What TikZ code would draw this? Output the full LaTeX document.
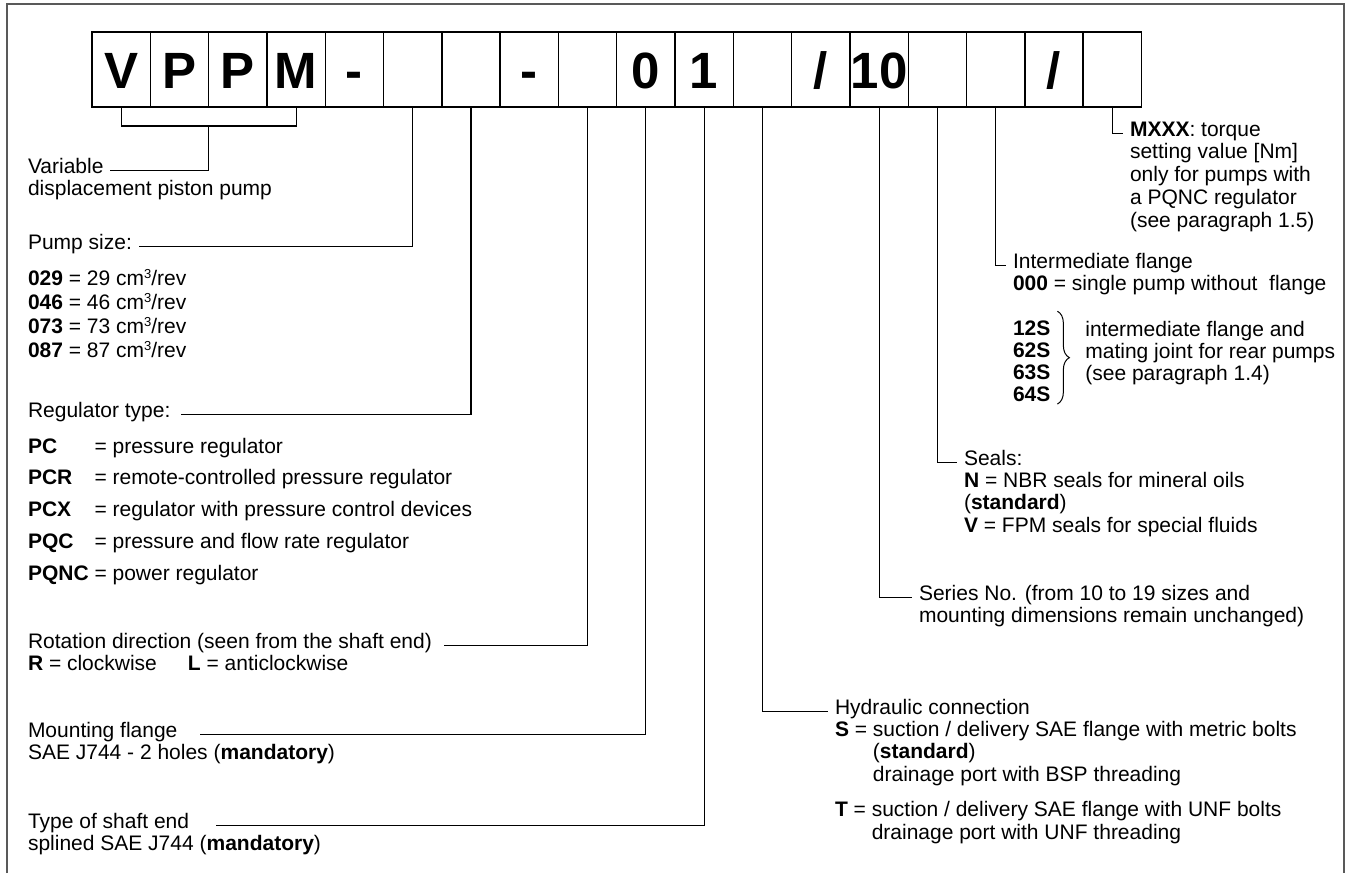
\documentclass[tikz,border=0pt]{standalone}
\usepackage{fontspec}
\setmainfont{Liberation Sans}
\usepackage{tikz}
\usetikzlibrary{positioning, decorations.pathreplacing}
\tikzset{
    cell/.style={rectangle, draw, line width=1.4pt, minimum width=58.3pt, minimum height=75pt, inner sep=0pt, outer sep=0pt, text height=37pt, text depth=0pt, font=\fontsize{51}{51}\selectfont\bfseries},
    desc/.style={inner sep=0pt, outer xsep=7pt, outer ysep=0pt, align=left, font=\fontsize{21}{23}\selectfont},
    lead/.style={line width=1.1pt},
    frame/.style={line width=1.6pt, black!65}
}
\begin{document}
\begin{tikzpicture}[x=1pt, y=-1pt, node distance=7pt]
    \useasboundingbox (0,0) rectangle (1348,873);
    % Outer frame (open at the bottom)
    \draw[frame] (7,873) -- (7,4) -- (1344,4) -- (1344,873);

    % Code boxes
    \node[cell] (box1) at (121.15,69.5) {V};
    \node[cell, right=0pt of box1] (box2) {P};
    \node[cell, right=0pt of box2] (box3) {P};
    \node[cell, right=0pt of box3] (box4) {M};
    \node[cell, right=0pt of box4] (box5) {-};
    \node[cell, right=0pt of box5] (box6) {};
    \node[cell, right=0pt of box6] (box7) {};
    \node[cell, right=0pt of box7] (box8) {-};
    \node[cell, right=0pt of box8] (box9) {};
    \node[cell, right=0pt of box9] (box10) {0};
    \node[cell, right=0pt of box10] (box11) {1};
    \node[cell, right=0pt of box11] (box12) {};
    \node[cell, right=0pt of box12] (box13) {/};
    \node[cell, right=0pt of box13] (box14) {10};
    \node[cell, right=0pt of box14] (box15) {};
    \node[cell, right=0pt of box15] (box16) {};
    \node[cell, right=0pt of box16] (box17) {/};
    \node[cell, right=0pt of box17] (box18) {};

    % Left column
    \node[desc, anchor=base west] (varT) at (21,173) {Variable};
    \node[desc, below=of varT.base west, anchor=north west] (varB) {displacement piston pump};

    \node[desc, anchor=base west] (sizeT) at (21,249) {Pump size:};
    \node[desc, font=\fontsize{21}{24}\selectfont, below=20pt of sizeT.base west, anchor=north west] (sizeB)
        {\textbf{029} = 29 cm\raisebox{7.5pt}{\fontsize{13}{13}\selectfont 3}/rev\\
         \textbf{046} = 46 cm\raisebox{7.5pt}{\fontsize{13}{13}\selectfont 3}/rev\\
         \textbf{073} = 73 cm\raisebox{7.5pt}{\fontsize{13}{13}\selectfont 3}/rev\\
         \textbf{087} = 87 cm\raisebox{7.5pt}{\fontsize{13}{13}\selectfont 3}/rev};

    \node[desc, anchor=base west] (regT) at (21,417) {Regulator type:};
    \node[desc, font=\fontsize{21}{31.7}\selectfont, below=21pt of regT.base west, anchor=north west] (regB)
        {\makebox[66.5pt][l]{\textbf{PC}}= pressure regulator\\
         \makebox[66.5pt][l]{\textbf{PCR}}= remote-controlled pressure regulator\\
         \makebox[66.5pt][l]{\textbf{PCX}}= regulator with pressure control devices\\
         \makebox[66.5pt][l]{\textbf{PQC}}= pressure and flow rate regulator\\
         \makebox[66.5pt][l]{\textbf{PQNC}}= power regulator};

    \node[desc, anchor=base west] (rotT) at (21,648) {Rotation direction (seen from the shaft end)};
    \node[desc, below=of rotT.base west, anchor=north west] (rotB)
        {\textbf{R} = clockwise\hspace{31pt}\textbf{L} = anticlockwise};

    \node[desc, anchor=base west] (mntT) at (21,737) {Mounting flange};
    \node[desc, below=of mntT.base west, anchor=north west] (mntB) {SAE J744 - 2 holes (\textbf{mandatory})};

    \node[desc, anchor=base west] (shfT) at (21,828) {Type of shaft end};
    \node[desc, below=of shfT.base west, anchor=north west] (shfB) {splined SAE J744 (\textbf{mandatory})};

    % Right column
    \node[desc, anchor=base west] (mxT) at (1123,136) {\textbf{MXXX}: torque};
    \node[desc, below=of mxT.base west, anchor=north west] (mxB)
        {setting value [Nm]\\only for pumps with\\a PQNC regulator\\(see paragraph 1.5)};

    \node[desc, anchor=base west] (intT) at (1006,268) {Intermediate flange};
    \node[desc, below=of intT.base west, anchor=north west] (intB) {\textbf{000} = single pump without\ \ flange};
    \node[desc, font=\fontsize{21}{22}\selectfont\bfseries, below=31pt of intB.base west, anchor=north west] (codes)
        {12S\\62S\\63S\\64S};
    \node[desc, font=\fontsize{21}{22}\selectfont, right=21pt of codes.north east, anchor=north west] (rear)
        {intermediate flange and\\mating joint for rear pumps\\(see paragraph 1.4)};
    \draw[decorate, decoration={brace, amplitude=12pt}, line width=1pt]
        ([yshift=10pt]codes.north east) -- ([yshift=-2pt]codes.south east);

    \node[desc, anchor=base west] (sealT) at (957,465) {Seals:};
    \node[desc, font=\fontsize{21}{22.5}\selectfont, below=of sealT.base west, anchor=north west] (sealB)
        {\textbf{N} = NBR seals for mineral oils\\(\textbf{standard})\\\textbf{V} = FPM seals for special fluids};

    \node[desc, anchor=base west] (serT) at (912,600) {Series No. (from 10 to 19 sizes and};
    \node[desc, below=of serT.base west, anchor=north west] (serB) {mounting dimensions remain unchanged)};

    \node[desc, anchor=base west] (hydT) at (828,714) {Hydraulic connection};
    \node[desc, font=\fontsize{21}{22.5}\selectfont, below=of hydT.base west, anchor=north west] (hydB)
        {\textbf{S} = suction / delivery SAE flange with metric bolts\\
         \phantom{\textbf{S} = }(\textbf{standard})\\
         \phantom{\textbf{S} = }drainage port with BSP threading\\[13pt]
         \textbf{T} = suction / delivery SAE flange with UNF bolts\\
         \phantom{\textbf{T} = }drainage port with UNF threading};

    % Connections
    \draw[lead] (box1.south) |- coordinate[pos=0.75] (vppm) ([yshift=-19pt]box4.south) -- (box4.south);
    \draw[lead] (vppm) |- (varT.mid east);
    \draw[lead] (box6.south) |- (sizeT.mid east);
    \draw[lead] (box7.south) |- ([xshift=4pt]regT.mid east);
    \draw[lead] (box9.south) |- ([xshift=5pt]rotT.mid east);
    \draw[lead] (box10.south) |- ([xshift=16pt]mntT.mid east);
    \draw[lead] (box11.south) |- ([xshift=20pt]shfT.mid east);
    \draw[lead] (box12.south) |- (hydT.mid west);
    \draw[lead] (box14.south) |- (serT.mid west);
    \draw[lead] (box15.south) |- (sealT.mid west);
    \draw[lead] (box16.south) |- (intT.mid west);
    \draw[lead] (box18.south) |- (mxT.mid west);
\end{tikzpicture}
\end{document}
